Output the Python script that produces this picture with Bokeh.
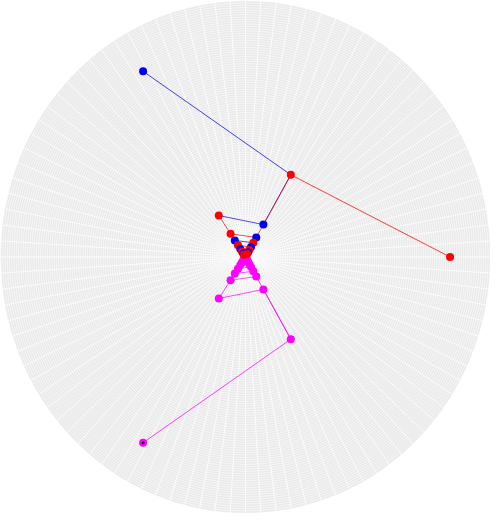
import numpy as np
from bokeh.plotting import figure
from bokeh.models import Range1d
from bokeh.embed import file_html
from bokeh.resources import INLINE

# ---- data (polar: theta in degrees, r in fraction of outer radius) ----
red_theta = [0, 60]
red_r = [0.835, 0.37]
blue_theta = [120, 60, 60]
blue_r = [0.836, 0.37, 0.146]

# ladder points, alternating right rail (60) / left rail (124), outer -> inner
ladder_theta = [60, 124, 60, 124, 60, 124, 60, 124, 60, 124, 60, 124, 60, 124, 60, 124]
ladder_r = [0.37, 0.195, 0.146, 0.109, 0.088, 0.078, 0.064, 0.055,
            0.045, 0.038, 0.031, 0.026, 0.021, 0.017, 0.014, 0.011]
ladder_colors = ["red", "red", "blue", "red", "blue", "blue", "red", "red",
                 "blue", "blue", "red", "red", "blue", "blue", "red", "red"]
rung_colors = ["blue", "red", "blue", "red", "blue", "red", "blue"]

mirror_color = "magenta"

# grid
r_grid = np.arange(1, 111) / 110.0
spoke_angles = np.arange(0, 360, 3.6)


def xy(theta, r):
    t = np.radians(np.asarray(theta, dtype=float))
    r = np.asarray(r, dtype=float)
    return list(r * np.cos(t)), list(r * np.sin(t))


p = figure(width=490, height=513, output_backend="svg", toolbar_location=None,
           x_range=Range1d(-1, 1), y_range=Range1d(-1, 1), min_border=0)
p.axis.visible = False
p.grid.visible = False
p.outline_line_color = None
p.background_fill_color = "white"
p.border_fill_color = "white"

# polar background
p.ellipse(x=[0], y=[0], width=[2], height=[2], fill_color="#e9e9e9", line_color=None)
p.ellipse(x=[0] * len(r_grid), y=[0] * len(r_grid), width=list(2 * r_grid),
          height=list(2 * r_grid), fill_color=None, line_color="white",
          line_width=0.8, line_alpha=0.75)
sx, sy = xy(spoke_angles, np.ones_like(spoke_angles))
p.segment(x0=[0] * len(sx), y0=[0] * len(sx), x1=sx, y1=sy, line_color="white",
          line_width=0.9, line_alpha=0.9)


def draw(sign, single_color=None):
    lt = [sign * t for t in ladder_theta]
    lx, ly = xy(lt, ladder_r)
    # outer lines
    bt = [sign * t for t in blue_theta]
    bx, by = xy(bt, blue_r)
    p.line(bx, by, line_color=single_color or "blue", line_width=1, line_alpha=0.75)
    if single_color is None:
        rx, ry = xy(red_theta, red_r)
        p.line(rx, ry, line_color="red", line_width=1, line_alpha=0.75)
    # rails
    rail_col = single_color or "red"
    p.line(lx[0::2], ly[0::2], line_color=rail_col, line_width=1, line_alpha=0.7)
    p.line(lx[1::2], ly[1::2], line_color=rail_col, line_width=1, line_alpha=0.7)
    # rungs
    x0, y0, x1, y1, rc = [], [], [], [], []
    for k, i in enumerate(range(1, len(lx) - 1, 2)):
        x0.append(lx[i]); y0.append(ly[i]); x1.append(lx[i + 1]); y1.append(ly[i + 1])
        rc.append(single_color or rung_colors[k % len(rung_colors)])
    p.segment(x0=x0, y0=y0, x1=x1, y1=y1, line_color=rc, line_width=1, line_alpha=0.7)
    # markers
    p.scatter([bx[0]], [by[0]], size=8, fill_color=single_color or "blue", line_color=None)
    if single_color is None:
        rx, ry = xy(red_theta, red_r)
        p.scatter([rx[0]], [ry[0]], size=8, fill_color="red", line_color=None)
    else:
        p.scatter([bx[0]], [by[0]], size=3, fill_color="black", line_color=None)
    mc = [single_color or c for c in ladder_colors]
    p.scatter(lx, ly, size=8, fill_color=mc, line_color=None)


draw(-1, mirror_color)
draw(1)

open("out.html", "w").write(file_html(p, INLINE))
